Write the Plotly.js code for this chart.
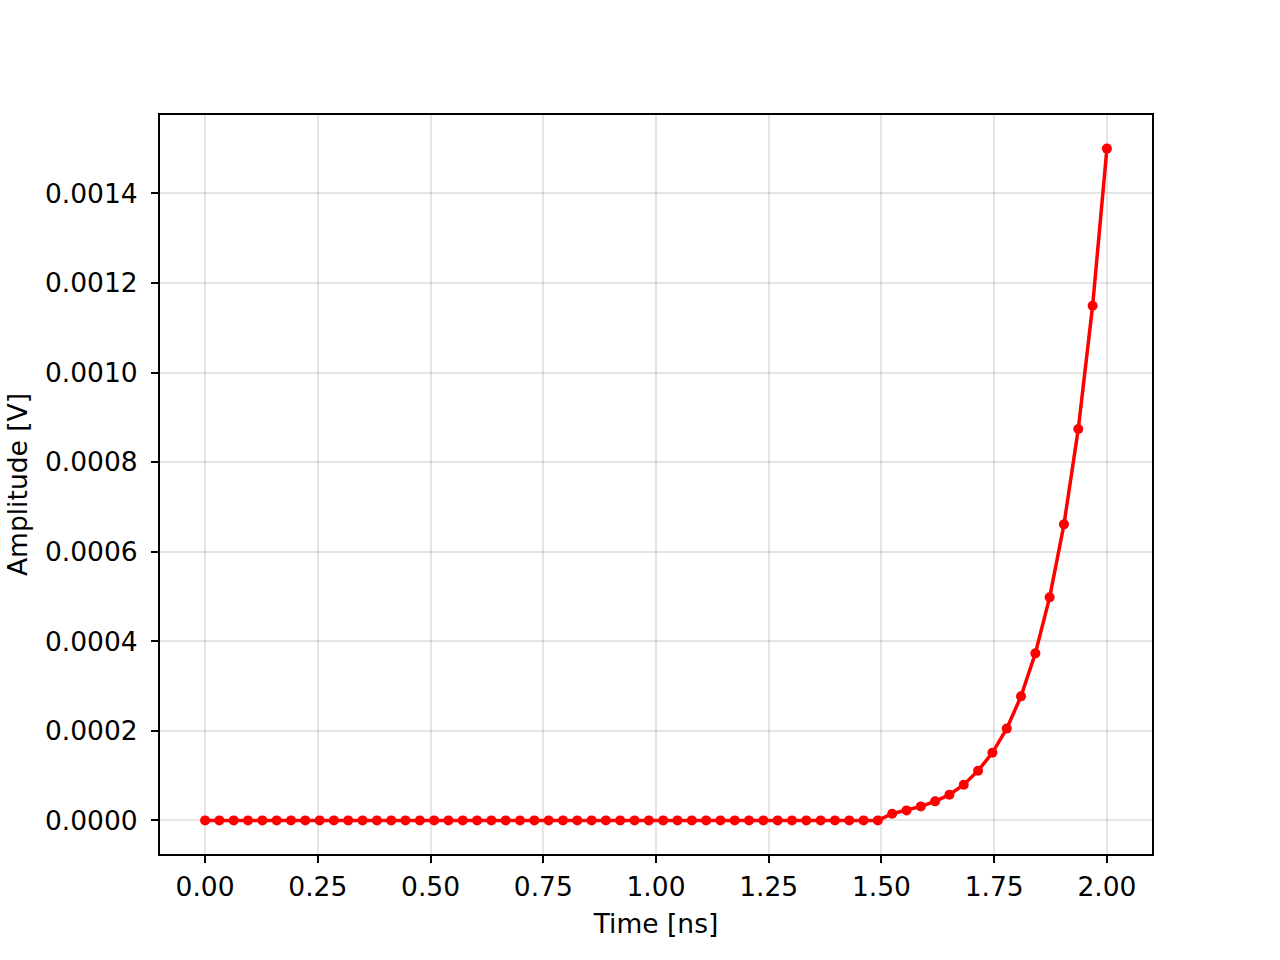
<!DOCTYPE html>
<html>
<head>
<meta charset="utf-8">
<script src="https://cdn.plot.ly/plotly-3.0.1.min.js"></script>
<style>html,body{margin:0;padding:0;background:#fff;}</style>
</head>
<body>
<div id="chart" style="width:1280px;height:960px;"></div>
<script>
const timeNs = [0, 0.0317, 0.0635, 0.0952, 0.127, 0.1587, 0.1905, 0.2222, 0.254, 0.2857,
  0.3175, 0.3492, 0.381, 0.4127, 0.4444, 0.4762, 0.5079, 0.5397, 0.5714, 0.6032,
  0.6349, 0.6667, 0.6984, 0.7302, 0.7619, 0.7937, 0.8254, 0.8571, 0.8889, 0.9206,
  0.9524, 0.9841, 1.0159, 1.0476, 1.0794, 1.1111, 1.1429, 1.1746, 1.2063, 1.2381,
  1.2698, 1.3016, 1.3333, 1.3651, 1.3968, 1.4286, 1.4603, 1.4921, 1.5238, 1.5556,
  1.5873, 1.619, 1.6508, 1.6825, 1.7143, 1.746, 1.7778, 1.8095, 1.8413, 1.873,
  1.9048, 1.9365, 1.9683, 2.0];
const amplitudeV = [0, 0, 0, 0, 0, 0, 0, 0, 0, 0,
  0, 0, 0, 0, 0, 0, 0, 0, 0, 0,
  0, 0, 0, 0, 0, 0, 0, 0, 0, 0,
  0, 0, 0, 0, 0, 0, 0, 0, 0, 0,
  0, 0, 0, 0, 0, 0, 0, 0, 0.0000150, 0.0000224,
  0.0000313, 0.0000425, 0.0000575, 0.0000798, 0.000111, 0.000151, 0.000205, 0.000277, 0.000373, 0.000498,
  0.000661, 0.000874, 0.001149, 0.0015];
const xTicks = [0, 0.25, 0.5, 0.75, 1.0, 1.25, 1.5, 1.75, 2.0];
const yTicks = [0, 0.0002, 0.0004, 0.0006, 0.0008, 0.0010, 0.0012, 0.0014];

const font = {family: 'DejaVu Sans', size: 26.5, color: '#000'};

Plotly.newPlot('chart', [{
  x: timeNs, y: amplitudeV, type: 'scatter', mode: 'lines+markers',
  line: {color: '#ff0000', width: 3.5},
  marker: {color: '#ff0000', size: 10},
  showlegend: false
}], {
  width: 1280, height: 960,
  margin: {l: 160, r: 128, t: 115, b: 106},
  paper_bgcolor: '#fff', plot_bgcolor: '#fff',
  font: font,
  xaxis: {
    range: [-0.1, 2.1], tickvals: xTicks, tickformat: '.2f',
    showline: true, mirror: true, linecolor: '#000', linewidth: 2,
    ticks: 'outside', ticklen: 7, tickwidth: 2, tickcolor: '#000',
    showgrid: true, gridcolor: 'rgba(0,0,0,0.1)', gridwidth: 2,
    zeroline: false, tickfont: font, ticklabelstandoff: 1,
    title: {text: 'Time [ns]', font: font, standoff: 14}
  },
  yaxis: {
    range: [-0.000075, 0.001575], tickvals: yTicks, tickformat: '.4f',
    showline: true, mirror: true, linecolor: '#000', linewidth: 2,
    ticks: 'outside', ticklen: 7, tickwidth: 2, tickcolor: '#000',
    showgrid: true, gridcolor: 'rgba(0,0,0,0.1)', gridwidth: 2,
    zeroline: false, tickfont: font, ticklabelstandoff: 8,
    title: {text: 'Amplitude [V]', font: font, standoff: 10}
  }
}, {displayModeBar: false});
</script>
</body>
</html>
